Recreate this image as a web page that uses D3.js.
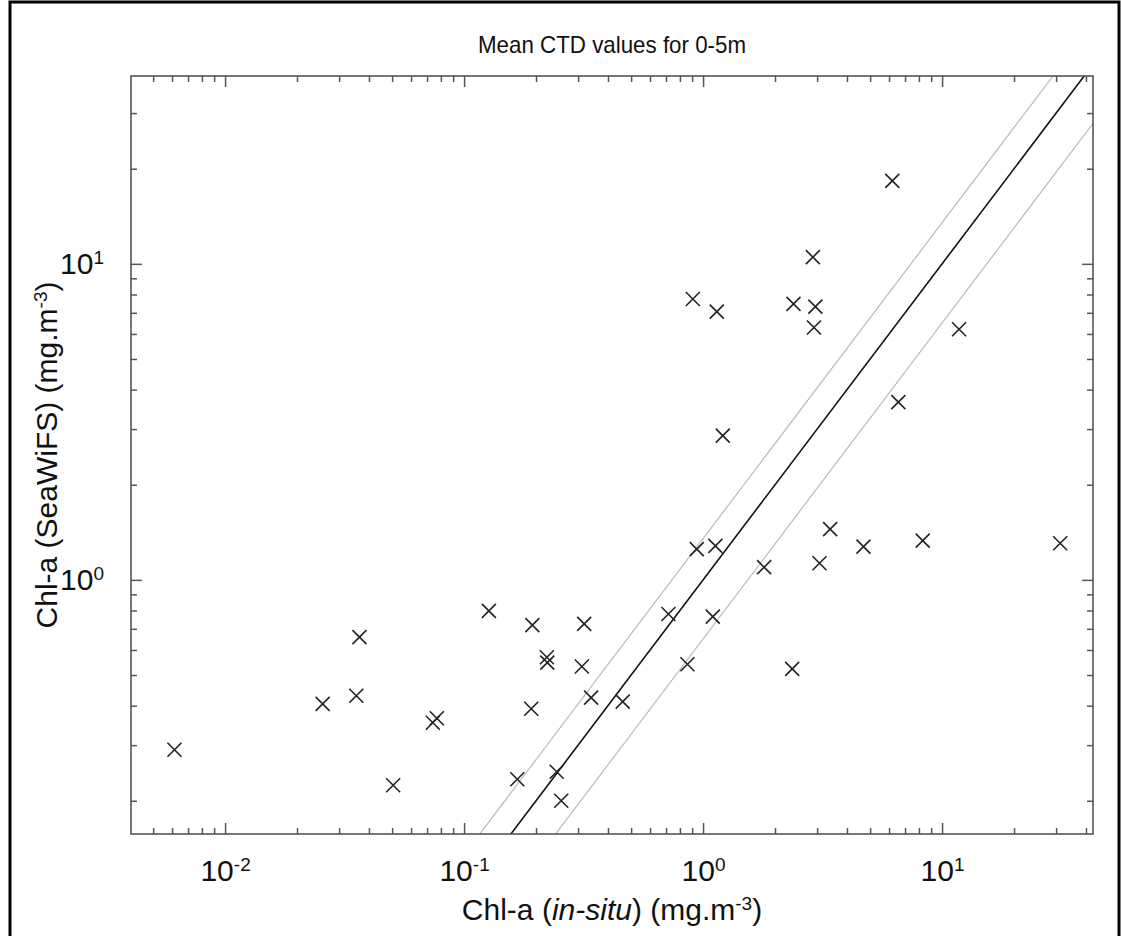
<!DOCTYPE html>
<html>
<head>
<meta charset="utf-8">
<script src="https://cdn.jsdelivr.net/npm/d3@7"></script>
<style>
    body { margin: 0; background: #fff; }
    svg { display: block; font-family: "Liberation Sans", Arial, sans-serif; }
</style>
</head>
<body>
<svg id="chart"></svg>
<script>
// in-situ chl-a vs SeaWiFS chl-a (mg.m-3)
const inSitu = [0.00614, 0.0256, 0.0354, 0.0365, 0.0505, 0.0740, 0.0769, 0.127, 0.193, 0.318,
    0.222, 0.223, 0.311, 0.716, 1.098, 0.860, 0.340, 0.461, 0.191, 0.167,
    0.244, 0.255, 0.941, 1.126, 1.80, 3.40, 4.69, 8.30, 31.2, 3.07,
    2.36, 6.56, 11.78, 6.19, 2.88, 2.39, 2.95, 2.91, 0.906, 1.141, 1.209];
const seaWiFS = [0.290, 0.405, 0.430, 0.659, 0.224, 0.353, 0.365, 0.798, 0.719, 0.726,
    0.569, 0.547, 0.532, 0.780, 0.765, 0.541, 0.424, 0.412, 0.391, 0.234,
    0.247, 0.200, 1.251, 1.281, 1.097, 1.447, 1.274, 1.331, 1.306, 1.129,
    0.523, 3.65, 6.21, 18.3, 10.50, 7.47, 7.32, 6.29, 7.74, 7.06, 2.86];

// 1:1 line and the +/-35% lines
const lineRatios = [1, 1.35, 0.65];
const lineColors = ['#111', '#b5b5b5', '#b5b5b5'];

const xDomain = [0.00404, 42.8];
const yDomain = [0.157, 39.3];
const xMajor = [0.01, 0.1, 1, 10];
const yMajor = [1, 10];
const xExp = ['-2', '-1', '0', '1'];
const yExp = ['0', '1'];

const titleText = 'Mean CTD values for 0-5m';

class LogScatter {

    constructor(_config) {
        this.config = {
            parentElement: _config.parentElement,
            width: _config.width || 1121,
            height: _config.height || 936,
            margin: {top: 76, right: 28, bottom: 102, left: 131}
        };
        this.initVis();
    }

    initVis() {
        let vis = this;
        let m = vis.config.margin;

        vis.innerW = vis.config.width - m.left - m.right;
        vis.innerH = vis.config.height - m.top - m.bottom;

        vis.svg = d3.select(vis.config.parentElement)
            .attr('width', vis.config.width)
            .attr('height', vis.config.height);

        // outer frame
        vis.svg.append('rect')
            .attr('x', 10).attr('y', 2)
            .attr('width', vis.config.width - 12)
            .attr('height', vis.config.height + 10)
            .attr('fill', 'none')
            .attr('stroke', '#000')
            .attr('stroke-width', 3);

        vis.chart = vis.svg.append('g')
            .attr('transform', `translate(${m.left},${m.top})`);

        vis.x = d3.scaleLog().domain(xDomain).range([0, vis.innerW]);
        vis.y = d3.scaleLog().domain(yDomain).range([vis.innerH, 0]);

        vis.svg.append('clipPath').attr('id', 'plotclip')
            .append('rect')
            .attr('width', vis.innerW)
            .attr('height', vis.innerH);
    }

    render() {
        let vis = this;
        let x = vis.x, y = vis.y;

        // reference lines
        vis.chart.append('g')
            .attr('clip-path', 'url(#plotclip)')
            .selectAll('line')
            .data(lineRatios)
            .join('line')
                .attr('x1', x(0.001)).attr('y1', r => y(0.001 * r))
                .attr('x2', x(100)).attr('y2', r => y(100 * r))
                .attr('stroke', (r, i) => lineColors[i])
                .attr('stroke-width', (r, i) => i == 0 ? 1.6 : 1.1);

        // minor ticks
        let xMinor = x.ticks().filter(v => !xMajor.some(t => Math.abs(t - v) < 1e-9));
        let yMinor = y.ticks().filter(v => !yMajor.some(t => Math.abs(t - v) < 1e-9));

        const styleAxis = g => {
            g.select('.domain').remove();
            g.selectAll('line').attr('stroke', '#555').attr('stroke-width', 1.5);
        };

        vis.chart.append('g')
            .attr('transform', `translate(0,${vis.innerH})`)
            .call(d3.axisBottom(x).tickValues(xMinor).tickSize(-6).tickFormat(''))
            .call(styleAxis);
        vis.chart.append('g')
            .call(d3.axisTop(x).tickValues(xMinor).tickSize(-6).tickFormat(''))
            .call(styleAxis);
        vis.chart.append('g')
            .call(d3.axisLeft(y).tickValues(yMinor).tickSize(-6).tickFormat(''))
            .call(styleAxis);
        vis.chart.append('g')
            .attr('transform', `translate(${vis.innerW},0)`)
            .call(d3.axisRight(y).tickValues(yMinor).tickSize(-6).tickFormat(''))
            .call(styleAxis);

        // major ticks with labels
        let xAxisG = vis.chart.append('g')
            .attr('transform', `translate(0,${vis.innerH})`)
            .call(d3.axisBottom(x).tickValues(xMajor).tickSize(-11).tickPadding(26).tickFormat(''))
            .call(styleAxis);
        xAxisG.selectAll('text')
            .attr('font-size', 30)
            .attr('fill', '#111')
            .attr('font-family', '"Liberation Sans", Arial, sans-serif')
            .each(function(d, i) {
                let t = d3.select(this);
                t.append('tspan').text('10');
                t.append('tspan').attr('dy', '-0.55em').attr('font-size', 19).text(xExp[i]);
            });

        let yAxisG = vis.chart.append('g')
            .call(d3.axisLeft(y).tickValues(yMajor).tickSize(-11).tickPadding(27).tickFormat(''))
            .call(styleAxis);
        yAxisG.selectAll('text')
            .attr('font-size', 30)
            .attr('fill', '#111')
            .attr('font-family', '"Liberation Sans", Arial, sans-serif')
            .each(function(d, i) {
                let t = d3.select(this);
                t.append('tspan').text('10');
                t.append('tspan').attr('dy', '-0.55em').attr('font-size', 19).text(yExp[i]);
            });

        vis.chart.append('g')
            .call(d3.axisTop(x).tickValues(xMajor).tickSize(-11).tickFormat(''))
            .call(styleAxis);
        vis.chart.append('g')
            .attr('transform', `translate(${vis.innerW},0)`)
            .call(d3.axisRight(y).tickValues(yMajor).tickSize(-11).tickFormat(''))
            .call(styleAxis);

        // plot box
        vis.chart.append('rect')
            .attr('width', vis.innerW)
            .attr('height', vis.innerH)
            .attr('fill', 'none')
            .attr('stroke', '#555')
            .attr('stroke-width', 1.6);

        // cross markers
        vis.chart.append('g')
            .selectAll('path')
            .data(inSitu)
            .join('path')
                .attr('transform', (d, i) => `translate(${x(d)},${y(seaWiFS[i])})`)
                .attr('d', 'M-7,-7L7,7M-7,7L7,-7')
                .attr('fill', 'none')
                .attr('stroke', '#222')
                .attr('stroke-width', 1.6);

        // title and axis labels
        vis.svg.append('text')
            .attr('x', vis.config.margin.left + vis.innerW / 2)
            .attr('y', 53)
            .attr('text-anchor', 'middle')
            .attr('font-size', 24)
            .attr('textLength', 268)
            .attr('lengthAdjust', 'spacingAndGlyphs')
            .attr('fill', '#111')
            .text(titleText);

        let xl = vis.svg.append('text')
            .attr('x', vis.config.margin.left + vis.innerW / 2)
            .attr('y', 920)
            .attr('text-anchor', 'middle')
            .attr('font-size', 30)
            .attr('fill', '#111');
        xl.append('tspan').text('Chl-a (');
        xl.append('tspan').attr('font-style', 'italic').text('in-situ');
        xl.append('tspan').text(') (mg.m');
        xl.append('tspan').attr('dy', '-0.55em').attr('font-size', 19).text('-3');
        xl.append('tspan').attr('dy', '0.35em').text(')');

        let yl = vis.svg.append('text')
            .attr('transform', `translate(57,${vis.config.margin.top + vis.innerH / 2}) rotate(-90)`)
            .attr('text-anchor', 'middle')
            .attr('font-size', 30)
            .attr('fill', '#111');
        yl.append('tspan').text('Chl-a (SeaWiFS) (mg.m');
        yl.append('tspan').attr('dy', '-0.55em').attr('font-size', 19).text('-3');
        yl.append('tspan').attr('dy', '0.35em').text(')');
    }
}

let plot = new LogScatter({parentElement: '#chart', width: 1121, height: 936});
plot.render();
</script>
</body>
</html>
